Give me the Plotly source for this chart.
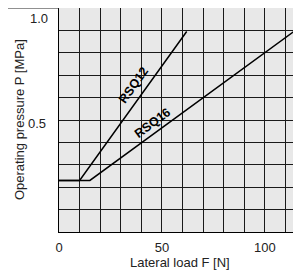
import plotly.graph_objects as go

# Data
rsq12_F = [0, 10, 62]
rsq12_P = [0.23, 0.23, 0.895]
rsq16_F = [0, 15, 114]
rsq16_P = [0.23, 0.23, 0.895]

x_tickvals = [0, 50, 100]
x_ticktext = ["0", "50", "100"]
y_tickvals = [0.5, 1.0]
y_ticktext = ["0.5", "1.0"]

series_labels = ["RSQ12", "RSQ16"]
label_pos = [(36.3, 0.656), (45.4, 0.487)]
label_angle = [-54.6, -36.5]

x_title = "Lateral load F [N]"
y_title = "Operating pressure P [MPa]"

FONT = "Liberation Sans, Arial, sans-serif"
GRID = "#1a1a1a"
TXT = "#222"

fig = go.Figure()
fig.add_trace(go.Scatter(x=rsq12_F, y=rsq12_P, mode="lines",
                         line=dict(color="black", width=1.5), showlegend=False))
fig.add_trace(go.Scatter(x=rsq16_F, y=rsq16_P, mode="lines",
                         line=dict(color="black", width=1.5), showlegend=False))

for name, (lx, ly), ang in zip(series_labels, label_pos, label_angle):
    fig.add_annotation(x=lx, y=ly, text=f"<b>{name}</b>", showarrow=False,
                       textangle=ang, font=dict(family=FONT, size=12.5, color="black"))

for val, txt in zip(y_tickvals, y_ticktext):
    fig.add_annotation(x=0, y=val, xref="paper", yref="y", text=txt,
                       showarrow=False, xanchor="right", xshift=(-9 if val == 1.0 else -11),
                       yshift=(-10 if val == 1.0 else -3),
                       font=dict(family=FONT, size=13, color=TXT))

# axis titles
fig.add_annotation(x=0.5, y=-0.134, xref="paper", yref="paper", text=x_title,
                   showarrow=False, xanchor="center", yanchor="middle",
                   font=dict(family=FONT, size=13, color=TXT))
fig.add_annotation(x=-0.165, y=0.5, xref="paper", yref="paper", text=y_title,
                   showarrow=False, textangle=-90, xanchor="center", yanchor="middle",
                   font=dict(family=FONT, size=13, color=TXT))

# outer frame (left and top)
fig.add_shape(type="line", xref="paper", yref="paper", x0=-0.225, x1=-0.225, y0=1, y1=-0.2,
              line=dict(color="#888", width=1.5))
fig.add_shape(type="line", xref="paper", yref="paper", x0=-0.225, x1=0, y0=1, y1=1,
              line=dict(color="#222", width=1))

fig.update_xaxes(range=[0, 117.5], tickvals=x_tickvals, ticktext=x_ticktext,
                 showgrid=True, gridcolor=GRID, gridwidth=1,
                 minor=dict(dtick=10, showgrid=True, gridcolor=GRID, gridwidth=1),
                 zeroline=False, showline=True, linecolor="black", linewidth=1, mirror=True,
                 ticks="", ticklabelstandoff=3, automargin=False,
                 tickfont=dict(family=FONT, size=13, color=TXT))
fig.update_yaxes(range=[0, 1.0], tickvals=y_tickvals, showticklabels=False,
                 showgrid=True, gridcolor=GRID, gridwidth=1,
                 minor=dict(dtick=0.1, showgrid=True, gridcolor=GRID, gridwidth=1),
                 zeroline=False, showline=True, linecolor="black", linewidth=1, mirror=True,
                 ticks="", automargin=False)

# page body has an 8px margin, so the figure is shifted by 8px; compensate
fig.update_layout(width=293, height=264,
                  margin=dict(l=51, r=0, t=0, b=40),
                  plot_bgcolor="#e8e8e8", paper_bgcolor="white")

fig.write_html("out.html")
